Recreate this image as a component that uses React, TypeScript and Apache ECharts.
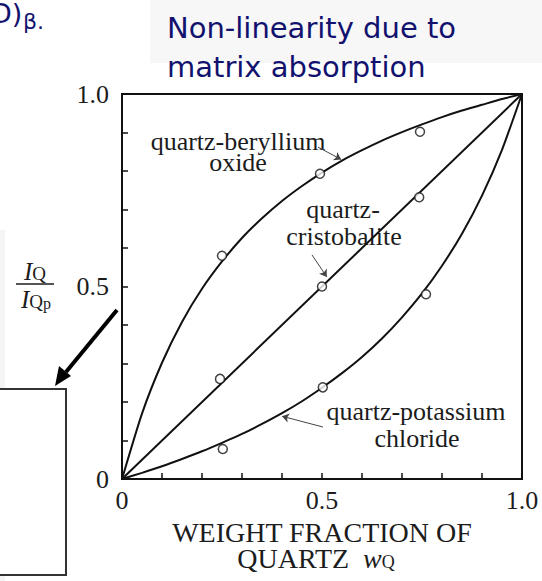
import React, { useEffect, useRef } from "react";
import * as echarts from "echarts";

// Smooth calibration curves (weight fraction -> intensity ratio), read every 0.05
const curveX = [0, 0.05, 0.1, 0.15, 0.2, 0.25, 0.3, 0.35, 0.4, 0.45, 0.5, 0.55, 0.6, 0.65, 0.7, 0.75, 0.8, 0.85, 0.9, 0.95, 1.0];
const berylliumY = [0, 0.17, 0.302, 0.408, 0.494, 0.565, 0.626, 0.677, 0.722, 0.761, 0.796, 0.827, 0.854, 0.879, 0.901, 0.921, 0.94, 0.957, 0.972, 0.987, 1.0];
const cristobaliteX = [0, 1.0];
const cristobaliteY = [0, 1.0];
const kclY = [0, 0.016, 0.033, 0.052, 0.072, 0.094, 0.117, 0.143, 0.171, 0.202, 0.237, 0.275, 0.317, 0.365, 0.42, 0.482, 0.554, 0.637, 0.736, 0.855, 1.0];

// Measured points
const berylliumPoints = [[0.25, 0.58], [0.495, 0.793], [0.745, 0.902]];
const cristobalitePoints = [[0.245, 0.26], [0.5, 0.5], [0.743, 0.732]];
const kclPoints = [[0.252, 0.078], [0.502, 0.238], [0.76, 0.48]];

// Label pointer arrows [from, to] in data units
const pointerArrows = [
  [[0.49, 0.862], [0.548, 0.83]],
  [[0.475, 0.582], [0.512, 0.525]],
  [[0.5025, 0.135], [0.4, 0.163]],
];

const xTickLabels: Record<string, string> = { "0": "0", "0.5": "0.5", "1": "1.0" };
const yTickLabels: Record<string, string> = { "0": "0", "0.5": "0.5", "1": "1.0" };

const zip = (xs: number[], ys: number[]) => xs.map((x, i) => [x, ys[i]]);
const tickText = (map: Record<string, string>) => (v: number) => {
  const key = String(Math.round(v * 10) / 10);
  return map[key] ?? "";
};

const SERIF = "Liberation Serif";
const INK = "#1c1c1c";
const NAVY = "#12126e";
const HEAD_FONT = "29px 'DejaVu Sans'";

const label = (text: string, x: number, y: number, size = 26) => ({
  type: "text",
  x,
  y,
  style: {
    text,
    font: `${size}px '${SERIF}'`,
    fill: INK,
    align: "center",
    verticalAlign: "middle",
    lineHeight: 20,
  },
});

export default function App() {
  const ref = useRef<HTMLDivElement>(null);

  useEffect(() => {
    document.body.style.margin = "0";
    const chart = echarts.init(ref.current!, null, { renderer: "svg" });

    const lineStyle = { color: "#111", width: 2 };
    const pointSeries = (data: number[][]) => ({
      type: "scatter",
      data,
      symbol: "circle",
      symbolSize: 9,
      itemStyle: { color: "#fff", borderColor: "#111", borderWidth: 1.5 },
      z: 5,
    });
    const fracRich = {
      i: { fontFamily: SERIF, fontStyle: "italic", fontSize: 25, fill: INK, lineHeight: 20 },
      s: { fontFamily: SERIF, fontSize: 19, fill: INK, padding: [5, 0, 0, 0], lineHeight: 20 },
      p: { fontFamily: SERIF, fontSize: 16, fill: INK, padding: [9, 0, 0, 0], lineHeight: 20 },
    };

    chart.setOption({
      animation: false,
      backgroundColor: "#ffffff",
      grid: {
        left: 122,
        top: 94,
        width: 400,
        height: 385,
        show: true,
        borderColor: "#111",
        borderWidth: 2,
        backgroundColor: "transparent",
      },
      xAxis: {
        type: "value",
        min: 0,
        max: 1,
        interval: 0.1,
        splitLine: { show: false },
        axisLine: { show: true, lineStyle: { color: "#111", width: 2 } },
        axisTick: { show: true, inside: true, length: 6, lineStyle: { color: "#111", width: 1.5 } },
        axisLabel: {
          formatter: tickText(xTickLabels),
          fontFamily: SERIF,
          fontSize: 26,
          color: INK,
          margin: 8,
          showMinLabel: true,
          showMaxLabel: true,
        },
      },
      yAxis: {
        type: "value",
        min: 0,
        max: 1,
        interval: 0.1,
        splitLine: { show: false },
        axisLine: { show: true, lineStyle: { color: "#111", width: 2 } },
        axisTick: { show: true, inside: true, length: 6, lineStyle: { color: "#111", width: 1.5 } },
        axisLabel: {
          formatter: tickText(yTickLabels),
          fontFamily: SERIF,
          fontSize: 26,
          color: INK,
          margin: 13,
          showMinLabel: true,
          showMaxLabel: true,
        },
      },
      series: [
        { type: "line", data: zip(curveX, berylliumY), smooth: 0.2, showSymbol: false, lineStyle, z: 3 },
        { type: "line", data: zip(cristobaliteX, cristobaliteY), showSymbol: false, lineStyle, z: 3 },
        { type: "line", data: zip(curveX, kclY), smooth: 0.2, showSymbol: false, lineStyle, z: 3 },
        pointSeries(berylliumPoints),
        pointSeries(cristobalitePoints),
        pointSeries(kclPoints),
        {
          type: "lines",
          coordinateSystem: "cartesian2d",
          data: pointerArrows.map((c) => ({ coords: c })),
          symbol: ["none", "arrow"],
          symbolSize: 7,
          lineStyle: { color: "#444", width: 1, opacity: 1 },
          z: 4,
        },
      ],
      graphic: [
        // faint slide backdrop behind the heading
        {
          type: "rect",
          z: -10,
          shape: { x: 150, y: 0, width: 392, height: 63 },
          style: { fill: "#f7f7f7" },
        },
        {
          type: "rect",
          z: -10,
          shape: { x: 0, y: 230, width: 5, height: 351 },
          style: { fill: "#f5f5f5" },
        },
        // heading
        {
          type: "text",
          x: 167,
          y: 28,
          style: { text: "Non-linearity due to", font: HEAD_FONT, fill: NAVY, verticalAlign: "middle" },
        },
        {
          type: "text",
          x: 167,
          y: 67,
          style: { text: "matrix absorption", font: HEAD_FONT, fill: NAVY, verticalAlign: "middle" },
        },
        {
          type: "text",
          x: -9,
          y: 13,
          style: { text: "D)", font: "27px 'DejaVu Sans'", fill: NAVY, verticalAlign: "middle" },
        },
        {
          type: "text",
          x: 23,
          y: 21,
          style: { text: "β.", font: "22px 'DejaVu Sans'", fill: NAVY, verticalAlign: "middle" },
        },
        // curve labels
        label("quartz-beryllium", 238, 141),
        label("oxide", 238, 162),
        label("quartz-", 343, 209),
        label("cristobalite", 344, 236),
        label("quartz-potassium", 416, 411),
        label("chloride", 417, 438),
        // y-axis name as a fraction
        {
          type: "text",
          x: 35,
          y: 271,
          style: { text: "{i|I}{s|Q}", align: "center", verticalAlign: "middle", fill: INK, rich: fracRich },
        },
        { type: "line", shape: { x1: 16, y1: 284, x2: 54, y2: 284 }, style: { stroke: INK, lineWidth: 1.5 } },
        {
          type: "text",
          x: 36,
          y: 299,
          style: { text: "{i|I}{s|Q}{p|p}", align: "center", verticalAlign: "middle", fill: INK, rich: fracRich },
        },
        // x-axis name
        {
          type: "text",
          x: 322,
          y: 532,
          style: {
            text: "WEIGHT FRACTION OF",
            font: `28px '${SERIF}'`,
            fill: INK,
            align: "center",
            verticalAlign: "middle",
            lineHeight: 22,
          },
        },
        {
          type: "text",
          x: 316,
          y: 558,
          style: {
            text: "{n|QUARTZ  }{i|w}{s|Q}",
            align: "center",
            verticalAlign: "middle",
            fill: INK,
            rich: {
              n: { fontFamily: SERIF, fontSize: 28, fill: INK, lineHeight: 22 },
              i: { fontFamily: SERIF, fontStyle: "italic", fontSize: 28, fill: INK, lineHeight: 22 },
              s: { fontFamily: SERIF, fontSize: 18, fill: INK, padding: [8, 0, 0, 0], lineHeight: 22 },
            },
          },
        },
        // call-out arrow and box
        { type: "line", shape: { x1: 117, y1: 310, x2: 66, y2: 372 }, style: { stroke: "#000", lineWidth: 4 } },
        {
          type: "polygon",
          shape: { points: [[55, 386], [71, 376], [59, 366]] },
          style: { fill: "#000" },
        },
        {
          type: "rect",
          shape: { x: -3, y: 389, width: 69, height: 186 },
          style: { fill: "#fff", stroke: "#333", lineWidth: 2 },
        },
      ],
    });

    return () => chart.dispose();
  }, []);

  return <div ref={ref} style={{ width: 542, height: 581 }} />;
}
